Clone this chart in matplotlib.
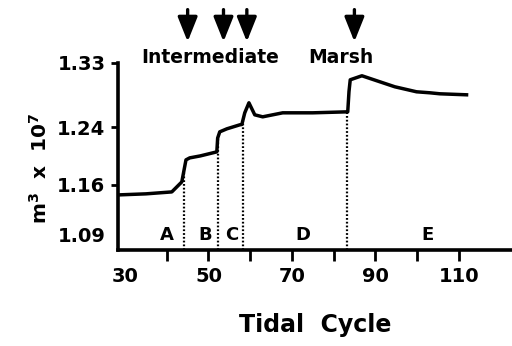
import numpy as np
import matplotlib
matplotlib.use("Agg")
import matplotlib.pyplot as plt

plt.rcParams.update({
    "font.family": "DejaVu Sans", "font.weight": "bold",
    "mathtext.fontset": "dejavusans", "mathtext.default": "bf",
})

# tidal volume trace (m^3 x 10^7) against tidal cycle
cycle = [28.3, 35.0, 41.2, 43.6, 44.6, 45.5, 48.0, 52.0, 52.2, 52.7, 54.4, 57.5,
         58.0, 58.7, 59.7, 61.1, 63.0, 67.8, 75.0, 83.4, 83.7, 84.0, 86.8, 91.1,
         94.7, 99.9, 103.1, 105.5, 111.9]
volume = [1.1455, 1.147, 1.1497, 1.1637, 1.1945, 1.1973, 1.200, 1.2057, 1.2250, 1.2337, 1.2379, 1.2435,
          1.2440, 1.2603, 1.2743, 1.2575, 1.2547, 1.2603, 1.2603, 1.2617, 1.2900, 1.3065, 1.3121, 1.3037,
          1.2967, 1.2897, 1.2883, 1.2869, 1.2855]

# period boundaries (dotted) and period labels
bounds = [44.1, 52.2, 58.2, 83.2]
periods = ["A", "B", "C", "D", "E"]
period_x = [40.0, 49.1, 55.6, 72.6, 102.6]

# treatment arrows
arrow_x = [45.0, 53.6, 59.2, 85.0]
phase_labels = ["Intermediate", "Marsh"]
phase_x = [50.3, 81.7]

yticks = [1.09, 1.16, 1.24, 1.33]
xticks = [30, 50, 70, 90, 110]
xminor = [40, 60, 80, 100]

YMIN, YMAX = 1.0685, 1.330

fig = plt.figure(figsize=(5.12, 3.46), dpi=100)
ax = fig.add_axes([0.2305, 0.2775, 0.7695, 0.5405])

ax.plot(cycle, volume, color="black", lw=2.5, solid_joinstyle="round")

for b in bounds:
    top = np.interp(b, cycle, volume)
    ax.plot([b, b], [YMIN, top], color="black", lw=1.6, ls=(0, (0.8, 0.9)))

for lab, px in zip(periods, period_x):
    ax.text(px, 1.0895, lab, ha="center", va="center", fontsize=13)

for ax_x in arrow_x:
    ax.annotate("", xy=(ax_x, 1.3598), xytext=(ax_x, 1.4046), xycoords="data",
                annotation_clip=False,
                arrowprops=dict(arrowstyle="-|>,head_length=0.75,head_width=0.3",
                                mutation_scale=20, lw=2.4, color="black",
                                shrinkA=0, shrinkB=0))
for lab, px in zip(phase_labels, phase_x):
    ax.text(px, 1.3374, lab, ha="center", va="center", fontsize=13.5, clip_on=False)

ax.set_xlim(28.3, 122.8)
ax.set_ylim(YMIN, YMAX)
for s in ["top", "right"]:
    ax.spines[s].set_visible(False)
for s in ["left", "bottom"]:
    ax.spines[s].set_linewidth(2.6)

ax.set_yticks(yticks)
ax.set_yticklabels([f"{v:.2f}" for v in yticks], fontsize=14, fontweight="bold")
ax.set_xticks(xticks)
ax.set_xticklabels([str(v) for v in xticks], fontsize=14, fontweight="bold")
ax.set_xticks(xminor, minor=True)
ax.tick_params(axis="x", which="both", direction="out", length=8, width=2, pad=4)
ax.tick_params(axis="y", direction="out", length=5, width=2, pad=4)
ax.xaxis.get_major_ticks()[0].tick1line.set_visible(False)
ax.yaxis.get_major_ticks()[0].tick1line.set_visible(False)

ax.set_xlabel("Tidal  Cycle", fontsize=17, fontweight="bold", labelpad=20)
fig.text(40 / 512, 1 - 168 / 346, r"m$^{3}$  x  10$^{7}$", rotation=90,
         ha="center", va="center", fontsize=14.5, fontweight="bold")

fig.savefig("out.png", dpi=100)
